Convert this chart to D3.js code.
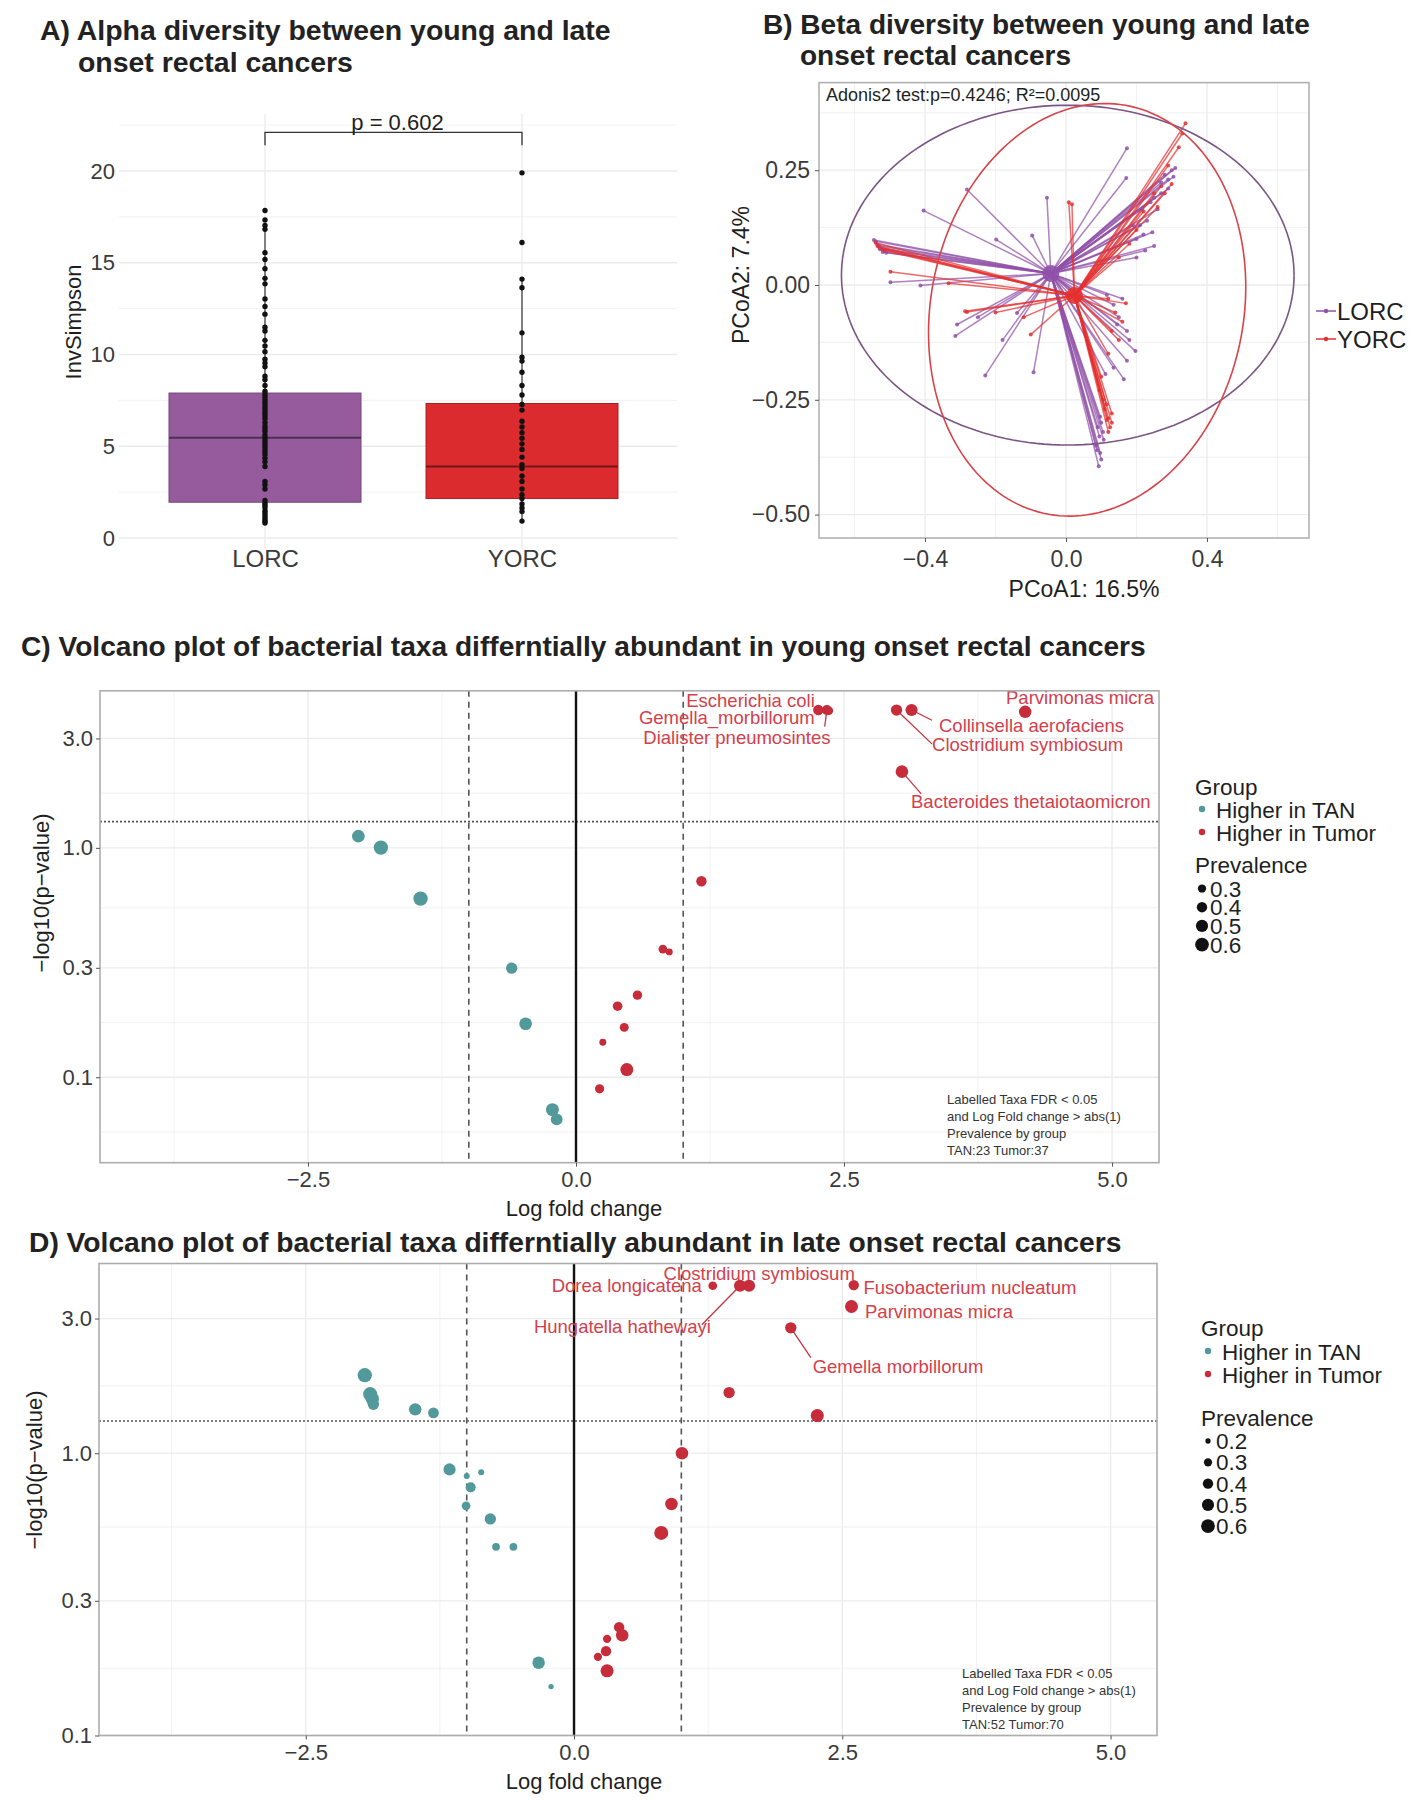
<!DOCTYPE html>
<html><head><meta charset="utf-8">
<script src="https://cdn.jsdelivr.net/npm/d3@7"></script>
<style>body{margin:0;background:#fff}svg{display:block}</style>
</head><body>
<script>
// ================= DATA =================
// Panel A – alpha diversity (InvSimpson)
const alphaGroups = ["LORC", "YORC"];
const alphaColors = ["#955B9C", "#DB2B2E"];
const alphaLORC = [17.85,17.33,17.03,16.82,15.55,15.18,14.67,14.15,13.85,13.03,12.62,12.2,11.49,11.28,10.77,10.46,10.15,9.74,9.54,9.33,8.82,8.62,8.31,8.0,7.85,7.7,7.55,7.4,7.25,7.1,6.95,6.8,6.65,6.5,6.3,6.1,5.95,5.8,5.6,5.45,5.3,5.15,5.0,4.85,4.7,4.55,4.35,4.15,3.9,3.08,2.9,2.67,2.05,1.9,1.78,1.65,1.5,1.38,1.25,1.12,1.0,0.9,0.82];
const alphaYORC = [19.9,16.1,14.11,13.64,11.18,9.85,9.64,9.03,8.31,7.79,7.28,6.97,6.36,6.05,5.74,5.44,5.13,4.82,4.41,4.0,3.79,3.38,3.08,2.67,2.36,2.15,1.85,1.64,1.44,0.92];
const boxQ1 = [1.95, 2.15];
const boxMedian = [5.47, 3.89];
const boxQ3 = [7.9, 7.33];
const whiskerLow = [0.82, 0.92];
const whiskerHigh = [16.82, 14.11];
const alphaTicks = [0, 5, 10, 15, 20];
const alphaPText = "p = 0.602";
const alphaBracket = [21.4, 22.1];

// Panel B – beta diversity PCoA (spider plot)
const betaGroups = ["LORC", "YORC"];
const betaColors = ["#9050A8", "#E3302F"];
const betaEllipseColors = ["#7A5585", "#D8434A"];
const betaCentroids = [[-0.043, 0.025], [0.024, -0.023]];
const betaLORC = [[-0.545,0.098],[-0.535,0.088],[-0.528,0.078],[-0.52,0.072],[-0.54,0.095],[-0.53,0.085],[-0.525,0.08],[-0.51,0.07],[-0.498,0.006],[-0.413,-0.001],[-0.281,0.208],[-0.404,0.162],[-0.198,0.099],[-0.096,0.108],[-0.054,0.19],[0.173,0.298],[0.171,0.233],[0.30,0.25],[0.305,0.236],[0.27,0.223],[0.29,0.21],[0.25,0.19],[0.26,0.165],[0.215,0.165],[0.19,0.13],[0.22,0.11],[0.245,0.115],[0.25,0.085],[0.225,0.075],[0.2,0.06],[0.28,0.24],[0.29,0.23],[0.31,0.255],[0.27,0.2],[0.24,0.18],[0.23,0.14],[0.2,0.1],[0.21,0.13],[-0.309,-0.086],[-0.314,-0.111],[-0.139,-0.061],[-0.229,-0.197],[-0.092,-0.19],[-0.25,-0.07],[-0.18,-0.12],[0.116,-0.022],[0.135,-0.043],[0.145,-0.086],[0.173,-0.1],[0.197,-0.144],[0.173,-0.165],[0.135,-0.18],[0.164,-0.205],[0.112,-0.194],[0.15,-0.07],[0.18,-0.12],[0.16,-0.03],[0.097,-0.287],[0.107,-0.337],[0.097,-0.366],[0.093,-0.395],[0.085,-0.35],[0.09,-0.31],[0.1,-0.30],[0.095,-0.33],[0.1,-0.38],[0.088,-0.36],[0.105,-0.32]];
const betaYORC = [[-0.54,0.092],[-0.53,0.082],[-0.515,0.075],[-0.535,0.085],[-0.52,0.078],[-0.498,0.029],[-0.333,0.004],[-0.286,-0.057],[-0.281,-0.059],[-0.2,-0.06],[-0.12,-0.07],[-0.1,-0.108],[0.008,0.18],[0.017,0.176],[0.339,0.352],[0.32,0.3],[0.33,0.33],[0.29,0.26],[0.30,0.22],[0.28,0.2],[0.27,0.215],[0.26,0.17],[0.25,0.2],[0.22,0.16],[0.2,0.12],[0.18,0.09],[0.15,0.06],[0.12,-0.03],[0.14,-0.06],[0.13,-0.1],[0.15,-0.12],[0.12,-0.15],[0.10,-0.2],[0.16,-0.08],[0.17,-0.04],[0.13,-0.28],[0.116,-0.294],[0.125,-0.31],[0.105,-0.25],[0.095,-0.23],[0.11,-0.27],[0.12,-0.29],[0.13,-0.3],[0.115,-0.26],[0.12,-0.32]];
// ellipse: [cx, cy, m11, m12, m21, m22]
const betaEllipseLORC = [0.005, 0.0215, 0.642, 0, 0, 0.37];
const betaEllipseYORC = [0.06, -0.054, 0.45, 0, 0.05, 0.4465];
const betaXTicks = [-0.4, 0, 0.4];
const betaYTicks = [-0.5, -0.25, 0, 0.25];
const betaStatText = "Adonis2 test:p=0.4246; R²=0.0095";

// Panel C – volcano, young onset
const volcGroupLabels = ["Higher in TAN", "Higher in Tumor"];
const volcColors = ["#52999B", "#C62C3A"];
const volcC_lfc  = [-2.03,-1.82,-1.45,-0.60,-0.47,-0.22,-0.18, 1.17,0.81,0.87,0.573,0.388,0.45,0.25,0.474,0.22, 2.26,2.34,2.36,2.99,3.13,4.19,3.04];
const volcC_y    = [1.125,1.003,0.601,0.299,0.171,0.0722,0.0655, 0.715,0.362,0.352,0.228,0.204,0.165,0.142,0.108,0.089, 3.99,3.99,3.96,3.99,3.99,3.92,2.15];
const volcC_prev = [0.53,0.64,0.65,0.45,0.53,0.55,0.48, 0.40,0.32,0.25,0.35,0.36,0.33,0.25,0.55,0.34, 0.40,0.38,0.30,0.45,0.50,0.52,0.53];
const volcC_grp  = [0,0,0,0,0,0,0, 1,1,1,1,1,1,1,1,1, 1,1,1,1,1,1,1];
const volcC_labelText   = ["Escherichia coli","Gemella_morbillorum","Dialister pneumosintes","Clostridium symbiosum","Collinsella aerofaciens","Parvimonas micra","Bacteroides thetaiotaomicron"];
const volcC_labelPoint  = [16, 17, 18, 19, 20, 21, 22];
const volcC_labelX      = [2.227, 2.227, 2.374, 3.321, 3.386, 4.011, 3.125];
const volcC_labelY      = [4.41, 3.69, 3.02, 2.81, 3.40, 4.51, 1.59];
const volcC_labelAnchor = ["end","end","end","start","start","start","start"];
const volcC_segEndX     = [null, 2.32, null, 3.32, 3.32, null, 3.22];
const volcC_segEndY     = [null, 3.38, null, 2.84, 3.60, null, 1.72];
const volcC_prevBreaks  = [0.3, 0.4, 0.5, 0.6];
const volcC_note = ["Labelled Taxa FDR < 0.05","and Log Fold change > abs(1)","Prevalence by group","TAN:23  Tumor:37"];

// Panel D – volcano, late onset
const volcD_lfc  = [-1.95,-1.90,-1.88,-1.87,-1.48,-1.31,-1.16,-0.865,-0.963,-1.006,-1.0,-0.78,-0.727,-0.565,-0.33,-0.214, 1.006,0.908,0.813,0.42,0.449,0.308,0.298,0.223,0.308, 1.293,1.547,1.631,2.607,2.586,2.02,1.445,2.267];
const volcD_y    = [1.89,1.62,1.56,1.49,1.43,1.39,0.876,0.856,0.757,0.651,0.83,0.585,0.466,0.466,0.181,0.149, 1.0,0.661,0.522,0.242,0.2265,0.22,0.199,0.19,0.1695, 3.92,3.92,3.92,3.94,3.31,2.78,1.64,1.36];
const volcD_prev = [0.64,0.62,0.58,0.45,0.52,0.42,0.50,0.22,0.38,0.32,0.22,0.45,0.28,0.28,0.52,0.20, 0.52,0.52,0.62,0.40,0.52,0.30,0.40,0.30,0.56, 0.32,0.50,0.50,0.40,0.55,0.45,0.45,0.56];
const volcD_grp  = [0,0,0,0,0,0,0,0,0,0,0,0,0,0,0,0, 1,1,1,1,1,1,1,1,1, 1,1,1,1,1,1,1,1];
const volcD_labelText   = ["Clostridium symbiosum","Dorea longicatena","Hungatella hathewayi","Fusobacterium nucleatum","Parvimonas micra","Gemella morbillorum"];
const volcD_labelPoint  = [27, 25, 26, 28, 29, 30];
const volcD_labelX      = [0.835, 1.191, 1.275, 2.698, 2.712, 2.224];
const volcD_labelY      = [4.33, 3.92, 2.80, 3.87, 3.18, 2.03];
const volcD_labelAnchor = ["start","end","end","start","start","start"];
const volcD_segEndX     = [null, null, 1.191, null, null, 2.207];
const volcD_segEndY     = [null, null, 2.85, null, null, 2.18];
const volcD_prevBreaks  = [0.2, 0.3, 0.4, 0.5, 0.6];
const volcD_note = ["Labelled Taxa FDR < 0.05","and Log Fold change > abs(1)","Prevalence by group","TAN:52  Tumor:70"];

const volcXMajor = [-2.5, 0, 2.5, 5];
const volcXMinor = [-3.75, -1.25, 1.25, 3.75];
const volcYMajor = [0.1, 0.3, 1, 3];
const volcYMinor = [0.0577, 0.173, 0.548, 1.732];

// ================= DRAW =================
const FONT = "'Liberation Sans', Arial, Helvetica, sans-serif";
const W = 1413, H = 1800;
const svg = d3.select("body").append("svg").attr("width", W).attr("height", H)
  .style("font-family", FONT);
svg.append("rect").attr("width", W).attr("height", H).attr("fill", "#fff");
const GRID = "#EBEBEB", BORDER = "#ADADAD", TICKTXT = "#3a3a3a", TXT = "#1f1f1f";

function fitTitle(x, y, str, target) {
  const t = svg.append("text").attr("x", x).attr("y", y).attr("font-weight", "bold")
    .attr("font-size", 26).attr("fill", "#222").text(str);
  const w = t.node().getComputedTextLength();
  const fs = 26 * target / w;
  t.attr("font-size", fs);
  return fs;
}
function styleAxis(g, fs) {
  g.attr("font-family", FONT);
  g.select(".domain").remove();
  g.selectAll(".tick line").attr("stroke", "#555").attr("stroke-width", 1);
  g.selectAll(".tick text").attr("font-size", fs).attr("fill", TICKTXT);
}

// ---------- Titles ----------
const fsA = fitTitle(40, 39.5, "A) Alpha diversity between young and late", 571);
svg.append("text").attr("x", 78).attr("y", 71.5).attr("font-weight", "bold").attr("font-size", fsA).attr("fill", "#222").text("onset rectal cancers");
const fsB = fitTitle(763, 33.5, "B) Beta diversity between young and late", 547);
svg.append("text").attr("x", 800).attr("y", 64.5).attr("font-weight", "bold").attr("font-size", fsB).attr("fill", "#222").text("onset rectal cancers");
fitTitle(21, 656, "C) Volcano plot of bacterial taxa differntially abundant in young onset rectal cancers", 1125);
fitTitle(29, 1252, "D) Volcano plot of bacterial taxa differntially abundant in late onset rectal cancers", 1093);

// ---------- Panel A ----------
(function () {
  const L = 119, R = 677, T = 114, B = 549;
  const x = d3.scalePoint().domain(alphaGroups).range([265, 522]);
  const y = d3.scaleLinear().domain([0, 20]).range([538, 171]);
  const g = svg.append("g");
  const minor = [2.5, 7.5, 12.5, 17.5, 22.5];
  g.selectAll(".gmin").data(minor).join("line").attr("x1", L).attr("x2", R)
    .attr("y1", d => y(d)).attr("y2", d => y(d)).attr("stroke", GRID).attr("stroke-width", 0.7);
  g.selectAll(".gmaj").data(alphaTicks).join("line").attr("x1", L).attr("x2", R)
    .attr("y1", d => y(d)).attr("y2", d => y(d)).attr("stroke", GRID).attr("stroke-width", 1.3);
  g.selectAll(".gv").data(alphaGroups).join("line").attr("x1", d => x(d)).attr("x2", d => x(d))
    .attr("y1", T).attr("y2", B).attr("stroke", GRID).attr("stroke-width", 1.3);

  const bw = 192;
  alphaGroups.forEach((grp, i) => {
    const cx = x(grp);
    g.append("line").attr("x1", cx).attr("x2", cx).attr("y1", y(boxQ3[i])).attr("y2", y(whiskerHigh[i]))
      .attr("stroke", "#333").attr("stroke-width", 1.2);
    g.append("line").attr("x1", cx).attr("x2", cx).attr("y1", y(boxQ1[i])).attr("y2", y(whiskerLow[i]))
      .attr("stroke", "#333").attr("stroke-width", 1.2);
    const c = d3.color(alphaColors[i]);
    g.append("rect").attr("x", cx - bw / 2).attr("width", bw).attr("y", y(boxQ3[i]))
      .attr("height", y(boxQ1[i]) - y(boxQ3[i])).attr("fill", alphaColors[i])
      .attr("stroke", c.darker(0.7)).attr("stroke-width", 1);
    g.append("line").attr("x1", cx - bw / 2).attr("x2", cx + bw / 2).attr("y1", y(boxMedian[i])).attr("y2", y(boxMedian[i]))
      .attr("stroke", c.darker(1.8)).attr("stroke-width", 2);
  });
  [alphaLORC, alphaYORC].forEach((arr, i) => {
    g.selectAll(".pt" + i).data(arr).join("circle").attr("cx", x(alphaGroups[i])).attr("cy", d => y(d))
      .attr("r", 2.7).attr("fill", "#111");
  });
  const x1 = x(alphaGroups[0]), x2 = x(alphaGroups[1]);
  g.append("path").attr("d", `M${x1},${y(alphaBracket[0])}V${y(alphaBracket[1])}H${x2}V${y(alphaBracket[0])}`)
    .attr("fill", "none").attr("stroke", "#333").attr("stroke-width", 1.3);
  g.append("text").attr("x", (x1 + x2) / 2 + 4).attr("y", y(alphaBracket[1]) - 2).attr("text-anchor", "middle")
    .attr("font-size", 22).attr("fill", TXT).text(alphaPText);

  const ay = g.append("g").attr("transform", `translate(${L},0)`)
    .call(d3.axisLeft(y).tickValues(alphaTicks).tickSize(0).tickPadding(4).tickFormat(d3.format("d")));
  styleAxis(ay, 22);
  const ax = g.append("g").attr("transform", `translate(0,${B - 3})`)
    .call(d3.axisBottom(x).tickSize(0).tickPadding(4));
  styleAxis(ax, 24);
  g.append("text").attr("transform", "translate(73,322) rotate(-90)").attr("text-anchor", "middle")
    .attr("dy", "0.35em").attr("font-size", 22).attr("fill", TXT).text("InvSimpson");
})();

// ---------- Panel B ----------
(function () {
  const L = 819, R = 1309, T = 82.6, B = 538;
  const x = d3.scaleLinear().domain([-0.7007, 0.6894]).range([L, R]);
  const y = d3.scaleLinear().domain([-0.551, 0.4408]).range([B, T]);
  const g = svg.append("g");
  const xMin = [-0.6, -0.2, 0.2, 0.6], yMin = [-0.375, -0.125, 0.125, 0.375];
  g.selectAll(".vx").data(xMin).join("line").attr("x1", d => x(d)).attr("x2", d => x(d)).attr("y1", T).attr("y2", B).attr("stroke", GRID).attr("stroke-width", 0.7);
  g.selectAll(".hy").data(yMin).join("line").attr("y1", d => y(d)).attr("y2", d => y(d)).attr("x1", L).attr("x2", R).attr("stroke", GRID).attr("stroke-width", 0.7);
  g.selectAll(".vX").data(betaXTicks).join("line").attr("x1", d => x(d)).attr("x2", d => x(d)).attr("y1", T).attr("y2", B).attr("stroke", GRID).attr("stroke-width", 1.3);
  g.selectAll(".hY").data(betaYTicks).join("line").attr("y1", d => y(d)).attr("y2", d => y(d)).attr("x1", L).attr("x2", R).attr("stroke", GRID).attr("stroke-width", 1.3);

  const sets = [betaLORC, betaYORC];
  sets.forEach((pts, i) => {
    const c = betaCentroids[i];
    g.selectAll(".sp" + i).data(pts).join("line")
      .attr("x1", x(c[0])).attr("y1", y(c[1])).attr("x2", d => x(d[0])).attr("y2", d => y(d[1]))
      .attr("stroke", betaColors[i]).attr("stroke-width", 1.5).attr("stroke-opacity", 0.72);
  });
  sets.forEach((pts, i) => {
    g.selectAll(".pp" + i).data(pts).join("circle").attr("cx", d => x(d[0])).attr("cy", d => y(d[1]))
      .attr("r", 2).attr("fill", betaColors[i]).attr("fill-opacity", 0.85);
  });
  betaCentroids.forEach((c, i) => {
    g.append("circle").attr("cx", x(c[0])).attr("cy", y(c[1])).attr("r", 8.5).attr("fill", betaColors[i]).attr("fill-opacity", 0.9);
  });
  const ts = d3.range(0, 2 * Math.PI + 0.01, Math.PI / 90);
  [betaEllipseLORC, betaEllipseYORC].forEach((e, i) => {
    const line = d3.line().x(t => x(e[0] + e[2] * Math.cos(t) + e[3] * Math.sin(t)))
      .y(t => y(e[1] + e[4] * Math.cos(t) + e[5] * Math.sin(t)));
    g.append("path").attr("d", line(ts)).attr("fill", "none").attr("stroke", betaEllipseColors[i]).attr("stroke-width", 1.6);
  });
  g.append("rect").attr("x", L).attr("y", T).attr("width", R - L).attr("height", B - T)
    .attr("fill", "none").attr("stroke", BORDER).attr("stroke-width", 1.5);
  g.append("text").attr("x", 826).attr("y", 101).attr("font-size", 18).attr("fill", TXT).text(betaStatText);

  const ay = g.append("g").attr("transform", `translate(${L},0)`)
    .call(d3.axisLeft(y).tickValues(betaYTicks).tickSize(4).tickPadding(5).tickFormat(d3.format(".2f")));
  styleAxis(ay, 23);
  const ax = g.append("g").attr("transform", `translate(0,${B})`)
    .call(d3.axisBottom(x).tickValues(betaXTicks).tickSize(4).tickPadding(9).tickFormat(d3.format(".1f")));
  styleAxis(ax, 23);
  g.append("text").attr("x", 1084).attr("y", 597).attr("text-anchor", "middle").attr("font-size", 23).attr("fill", TXT).text("PCoA1: 16.5%");
  g.append("text").attr("transform", "translate(741,275) rotate(-90)").attr("text-anchor", "middle")
    .attr("dy", "0.35em").attr("font-size", 23).attr("fill", TXT).text("PCoA2: 7.4%");
  const ly = d3.scalePoint().domain(betaGroups).range([311, 339]);
  betaGroups.forEach((grp, i) => {
    g.append("line").attr("x1", 1316).attr("x2", 1336).attr("y1", ly(grp)).attr("y2", ly(grp))
      .attr("stroke", betaColors[i]).attr("stroke-width", 1.5);
    g.append("circle").attr("cx", 1326).attr("cy", ly(grp)).attr("r", 2.2).attr("fill", betaColors[i]);
    g.append("text").attr("x", 1337).attr("y", ly(grp)).attr("dy", "0.36em").attr("font-size", 24).attr("fill", TXT).text(grp);
  });
})();

// ---------- Volcano panels ----------
function volcano(cfg) {
  const { L, R, T, B, xDom, yDom, lfc, yv, prev, grp, lab, note, noteX, noteY, leg, prevBreaks, xTitleY, yTitle } = cfg;
  const x = d3.scaleLinear().domain(xDom).range([L, R]);
  const y = d3.scaleLog().domain(yDom).range([B, T]);
  const rad = p => Math.sqrt(Math.max(100 * p - 13, 4));
  const g = svg.append("g");
  const inY = v => v >= yDom[0] - 1e-9 && v <= yDom[1];
  g.selectAll(".vm").data(volcXMinor).join("line").attr("x1", d => x(d)).attr("x2", d => x(d)).attr("y1", T).attr("y2", B).attr("stroke", GRID).attr("stroke-width", 0.7);
  g.selectAll(".hm").data(volcYMinor.filter(inY)).join("line").attr("y1", d => y(d)).attr("y2", d => y(d)).attr("x1", L).attr("x2", R).attr("stroke", GRID).attr("stroke-width", 0.7);
  g.selectAll(".vM").data(volcXMajor).join("line").attr("x1", d => x(d)).attr("x2", d => x(d)).attr("y1", T).attr("y2", B).attr("stroke", GRID).attr("stroke-width", 1.3);
  g.selectAll(".hM").data(volcYMajor.filter(inY)).join("line").attr("y1", d => y(d)).attr("y2", d => y(d)).attr("x1", L).attr("x2", R).attr("stroke", GRID).attr("stroke-width", 1.3);
  [-1, 1].forEach(v => g.append("line").attr("x1", x(v)).attr("x2", x(v)).attr("y1", T).attr("y2", B)
    .attr("stroke", "#555").attr("stroke-width", 1.6).attr("stroke-dasharray", "6,5"));
  g.append("line").attr("x1", L).attr("x2", R).attr("y1", y(-Math.log10(0.05))).attr("y2", y(-Math.log10(0.05)))
    .attr("stroke", "#555").attr("stroke-width", 1.6).attr("stroke-dasharray", "2,2");
  g.append("line").attr("x1", x(0)).attr("x2", x(0)).attr("y1", T).attr("y2", B).attr("stroke", "#111").attr("stroke-width", 2.4);
  lab.text.forEach((t, i) => {
    if (lab.segX[i] == null) return;
    const p = lab.point[i];
    g.append("line").attr("x1", x(lfc[p])).attr("y1", y(yv[p])).attr("x2", x(lab.segX[i])).attr("y2", y(lab.segY[i]))
      .attr("stroke", "#C7343F").attr("stroke-width", 1.3);
  });
  const idx = d3.range(lfc.length).sort((a, b) => prev[b] - prev[a]);
  g.selectAll(".pt").data(idx).join("circle").attr("cx", i => x(lfc[i])).attr("cy", i => y(yv[i]))
    .attr("r", i => rad(prev[i])).attr("fill", i => volcColors[grp[i]]);
  lab.text.forEach((t, i) => {
    g.append("text").attr("x", x(lab.x[i])).attr("y", y(lab.y[i])).attr("dy", "0.35em")
      .attr("text-anchor", lab.anchor[i]).attr("font-size", 18.5).attr("fill", "#D3404B").text(t);
  });
  g.append("rect").attr("x", L).attr("y", T).attr("width", R - L).attr("height", B - T)
    .attr("fill", "none").attr("stroke", BORDER).attr("stroke-width", 1.6);
  note.forEach((t, i) => g.append("text").attr("x", noteX).attr("y", noteY + i * 17).attr("font-size", 13).attr("fill", "#333").text(t));
  const ay = g.append("g").attr("transform", `translate(${L},0)`)
    .call(d3.axisLeft(y).tickValues(volcYMajor.filter(inY)).tickSize(4).tickPadding(3).tickFormat(d3.format(".1f")));
  styleAxis(ay, 22);
  const ax = g.append("g").attr("transform", `translate(0,${B})`)
    .call(d3.axisBottom(x).tickValues(volcXMajor).tickSize(4).tickPadding(5).tickFormat(d3.format(".1f")));
  styleAxis(ax, 22);
  g.append("text").attr("x", 584).attr("y", xTitleY).attr("text-anchor", "middle").attr("font-size", 22).attr("fill", TXT).text("Log fold change");
  g.append("text").attr("transform", `translate(${yTitle[0]},${yTitle[1]}) rotate(-90)`).attr("text-anchor", "middle")
    .attr("dy", "0.35em").attr("font-size", 22).attr("fill", TXT).text("\u2212log10(p\u2212value)");
  // legend
  g.append("text").attr("x", leg.x).attr("y", leg.groupY).attr("font-size", 22.5).attr("fill", TXT).text("Group");
  volcGroupLabels.forEach((t, i) => {
    const yy = leg.groupY + leg.gOff + i * 23;
    g.append("circle").attr("cx", leg.x + 7).attr("cy", yy - 1).attr("r", 3.2).attr("fill", volcColors[i]);
    g.append("text").attr("x", leg.x + 21).attr("y", yy).attr("dy", "0.36em").attr("font-size", 22.5).attr("fill", TXT).text(t);
  });
  g.append("text").attr("x", leg.x).attr("y", leg.prevY).attr("font-size", 22.5).attr("fill", TXT).text("Prevalence");
  prevBreaks.forEach((p, i) => {
    const yy = leg.prevY + leg.pOff + i * leg.step;
    g.append("circle").attr("cx", leg.x + 7).attr("cy", yy).attr("r", rad(p)).attr("fill", "#111");
    g.append("text").attr("x", leg.x + 15).attr("y", yy).attr("dy", "0.36em").attr("font-size", 22.5).attr("fill", TXT).text(p.toFixed(1));
  });
}

volcano({
  L: 100, R: 1159, T: 690.8, B: 1162.7, xDom: [-4.44, 5.438], yDom: [0.0424, 4.84],
  lfc: volcC_lfc, yv: volcC_y, prev: volcC_prev, grp: volcC_grp,
  lab: { text: volcC_labelText, point: volcC_labelPoint, x: volcC_labelX, y: volcC_labelY, anchor: volcC_labelAnchor, segX: volcC_segEndX, segY: volcC_segEndY },
  note: volcC_note, noteX: 947, noteY: 1104, prevBreaks: volcC_prevBreaks,
  leg: { x: 1195, groupY: 795, gOff: 15, prevY: 873, pOff: 15.5, step: 18.7 },
  xTitleY: 1216, yTitle: [41, 893]
});
volcano({
  L: 99, R: 1157, T: 1263.5, B: 1735.5, xDom: [-4.427, 5.433], yDom: [0.1, 4.70],
  lfc: volcD_lfc, yv: volcD_y, prev: volcD_prev, grp: volcD_grp,
  lab: { text: volcD_labelText, point: volcD_labelPoint, x: volcD_labelX, y: volcD_labelY, anchor: volcD_labelAnchor, segX: volcD_segEndX, segY: volcD_segEndY },
  note: volcD_note, noteX: 962, noteY: 1678, prevBreaks: volcD_prevBreaks,
  leg: { x: 1201, groupY: 1336, gOff: 16, prevY: 1426, pOff: 15, step: 21.3 },
  xTitleY: 1789, yTitle: [34, 1470]
});
</script>
</body></html>
